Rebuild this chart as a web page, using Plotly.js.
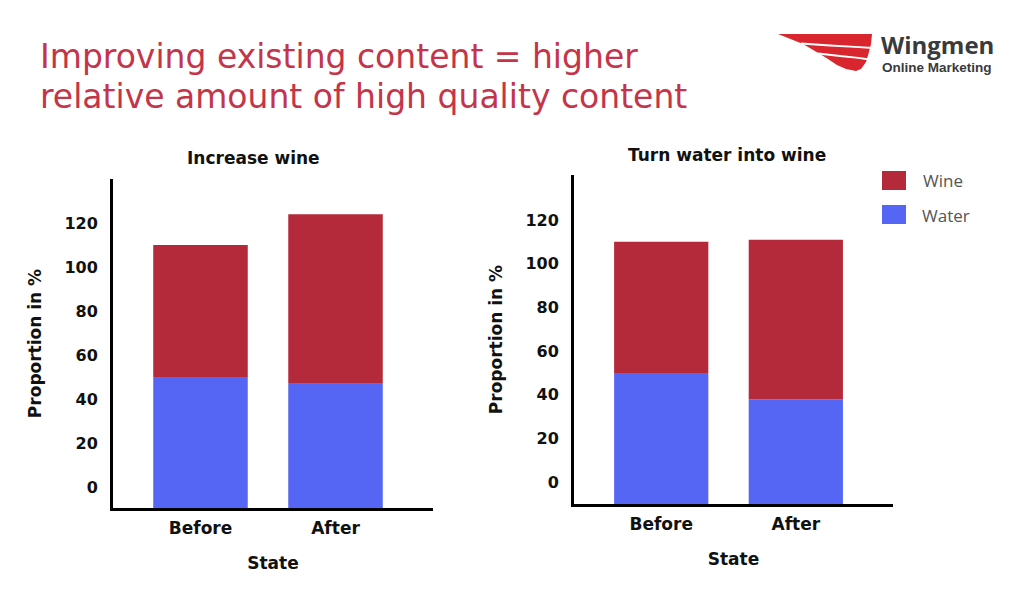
<!DOCTYPE html>
<html>
<head>
<meta charset="utf-8">
<script src="https://cdn.plot.ly/plotly-3.0.1.min.js"></script>
<style>html,body{margin:0;padding:0;background:#fff;}#chart{width:1024px;height:600px;}</style>
</head>
<body>
<div id="chart"></div>
<script>
// ---- data ----
const categories = ['Before', 'After'];
const panelTitles = ['Increase wine', 'Turn water into wine'];
const seriesNames = ['Wine', 'Water'];
const waterIncrease = [50, 47];
const wineIncrease = [60, 77];
const waterTurn = [50, 38];
const wineTurn = [60, 73];
const yTickVals = [0, 20, 40, 60, 80, 100, 120];
const yTickText = ['0', '20', '40', '60', '80', '100', '120'];
const chartTitle = ['Improving existing content = higher', 'relative amount of high quality content'];
const logoText = ['Wingmen', 'Online Marketing'];

// ---- styling ----
const WINE = '#b52a3a', WATER = '#5466f3', TITLE_RED = '#c4354a';
const BOLD = 'DejaVu Sans, sans-serif';
const W = 1024, H = 600;
const px = x => x / W, py = y => 1 - y / H;
const yRange1 = [-9.5, 140];
const yRange2 = [-10, 140.6];
const xRange = [-0.648, 1.722];

function panel(water, wine, xa, ya, floor) {
  return [
    { type: 'bar', name: seriesNames[1], x: categories, y: water.map(v => v - floor), base: water.map(() => floor),
      marker: { color: WATER }, width: 0.7, xaxis: xa, yaxis: ya, showlegend: false, hoverinfo: 'skip' },
    { type: 'bar', name: seriesNames[0], x: categories, y: wine, base: water,
      marker: { color: WINE }, width: 0.7, xaxis: xa, yaxis: ya, showlegend: false, hoverinfo: 'skip' }
  ];
}

const data = [].concat(
  panel(waterIncrease, wineIncrease, 'x', 'y', yRange1[0]),
  panel(waterTurn, wineTurn, 'x2', 'y2', yRange2[0])
);

const yTickFont = { family: BOLD, size: 16, color: '#111', weight: 700 };
const xTickFont = { family: BOLD, size: 17, color: '#111', weight: 700 };
const titleFont = { family: BOLD, size: 17, color: '#111', weight: 700 };

function xAxis(domain, anchor) {
  return { domain: domain, anchor: anchor, range: xRange, showline: true, linewidth: 3, linecolor: '#000',
    showgrid: false, zeroline: false, ticks: '', tickfont: xTickFont, ticklabelstandoff: 3,
    title: { text: 'State', font: titleFont, standoff: 20 }, fixedrange: true };
}
function yAxis(domain, anchor, range) {
  return { domain: domain, anchor: anchor, range: range, showline: true, linewidth: 3, linecolor: '#000',
    showgrid: false, zeroline: false, ticks: '', tickvals: yTickVals, ticktext: yTickText, tickfont: yTickFont,
    ticklabelstandoff: 9, title: { text: 'Proportion in %', font: titleFont, standoff: 19 }, fixedrange: true };
}

function note(text, x, y, anchor, font) {
  return { text: text, xref: 'paper', yref: 'paper', x: px(x), y: py(y), xanchor: anchor, yanchor: 'middle',
    showarrow: false, font: font };
}

const TITLE_FONT = { family: 'DejaVu Sans, sans-serif', size: 33, color: TITLE_RED };
const annotations = [
  note(chartTitle[0], 38, 57, 'left', TITLE_FONT),
  note(chartTitle[1], 38, 97, 'left', TITLE_FONT),
  note(panelTitles[0], 253, 158, 'center', { family: BOLD, size: 17, color: '#111', weight: 700 }),
  note(panelTitles[1], 727, 155, 'center', { family: BOLD, size: 17, color: '#111', weight: 700 }),
  note(seriesNames[0], 921, 180, 'left', { family: 'Open Sans, sans-serif', size: 17, color: '#555' }),
  note(seriesNames[1], 920, 215, 'left', { family: 'Open Sans, sans-serif', size: 17, color: '#555' }),
  note(logoText[0], 879, 45, 'left', { family: 'Open Sans, sans-serif', size: 24, color: '#3a3a3a', weight: 700 }),
  note(logoText[1], 880, 67, 'left', { family: 'Liberation Sans Narrow, Arial Narrow, sans-serif', size: 13.5, color: '#3a3a3a', weight: 700 })
];

function rect(x0, y0, x1, y1, color) {
  return { type: 'rect', xref: 'paper', yref: 'paper', x0: px(x0), x1: px(x1), y0: py(y0), y1: py(y1),
    fillcolor: color, line: { width: 0 } };
}
function pathStr(pts, close) {
  return pts.map((p, i) => (i ? 'L' : 'M') + px(p[0]).toFixed(5) + ',' + py(p[1]).toFixed(5)).join(' ') + (close ? ' Z' : '');
}
const WING = '#d9262e';
const shapes = [
  rect(882, 171, 906, 190, WINE),
  rect(882, 205, 906, 224, WATER),
  // logo wing (decoration)
  { type: 'path', xref: 'paper', yref: 'paper', fillcolor: WING, line: { width: 0 },
    path: pathStr([[778, 34], [872, 34], [871, 44], [869, 52], [866, 62], [861, 69], [856, 71], [846, 69], [837, 65], [828, 59], [820, 54], [803, 44]], true) },
  { type: 'path', xref: 'paper', yref: 'paper', line: { color: '#fff', width: 1.8 },
    path: pathStr([[801, 43.5], [830, 45.5], [855, 46.8], [873, 48]], false) },
  { type: 'path', xref: 'paper', yref: 'paper', line: { color: '#fff', width: 1.8 },
    path: pathStr([[818, 53.5], [840, 56], [856, 57.6], [870, 59.5]], false) }
];

const layout = {
  width: W, height: H, margin: { l: 0, r: 0, t: 0, b: 0 },
  paper_bgcolor: '#fff', plot_bgcolor: '#fff', barmode: 'overlay', showlegend: false,
  xaxis: xAxis([px(113), px(433)], 'y'),
  yaxis: yAxis([py(508), py(179)], 'x', yRange1),
  xaxis2: xAxis([px(574), px(893)], 'y2'),
  yaxis2: yAxis([py(504), py(175)], 'x2', yRange2),
  annotations: annotations, shapes: shapes
};

Plotly.newPlot('chart', data, layout, { staticPlot: true, displayModeBar: false });
</script>
</body>
</html>
